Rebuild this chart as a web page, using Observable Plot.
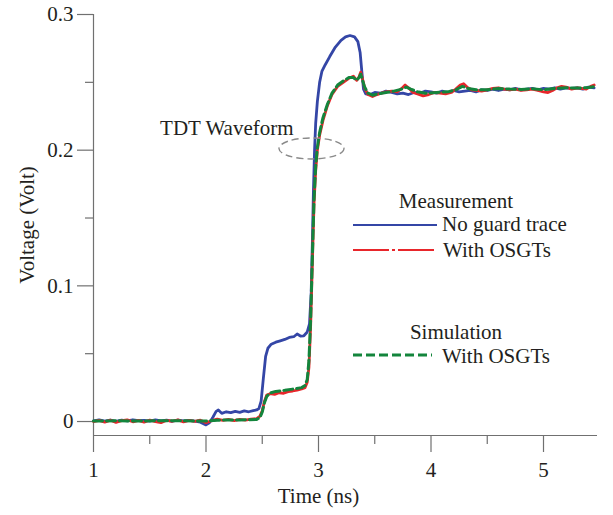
<!DOCTYPE html>
<html><head><meta charset="utf-8">
<script src="https://cdn.jsdelivr.net/npm/d3@7"></script>
<script src="https://cdn.jsdelivr.net/npm/@observablehq/plot@0.6"></script>
<style>
body{margin:0;background:#fff;}
#wrap{position:relative;width:613px;height:515px;font-family:"Liberation Serif","Times New Roman",serif;}
#wrap svg{display:block;}
#legend{position:absolute;left:0;top:0;pointer-events:none;}
</style></head><body><div id="wrap"></div>
<script>
// ---- data ----
const blueT = [1.00,1.05,1.10,1.15,1.20,1.25,1.30,1.35,1.40,1.45,1.50,1.55,1.60,1.65,1.70,1.75,1.80,1.85,1.90,1.95,2.00,2.03,2.06,2.09,2.11,2.14,2.18,2.22,2.26,2.30,2.34,2.38,2.42,2.45,2.47,2.49,2.51,2.53,2.55,2.58,2.62,2.66,2.70,2.74,2.78,2.81,2.84,2.87,2.90,2.92,2.935,2.945,2.955,2.965,2.975,2.99,3.01,3.03,3.06,3.10,3.15,3.20,3.24,3.28,3.32,3.35,3.37,3.385,3.40,3.42,3.46,3.50,3.55,3.60,3.65,3.70,3.75,3.80,3.85,3.90,3.95,4.00,4.05,4.10,4.15,4.20,4.25,4.30,4.35,4.40,4.45,4.50,4.55,4.60,4.65,4.70,4.75,4.80,4.85,4.90,4.95,5.00,5.05,5.10,5.15,5.20,5.25,5.30,5.35,5.40,5.45];
const blueV = [0.0005,0.0012,0.0003,0.0010,0.0002,0.0011,0.0004,0.0013,0.0006,0.0009,0.0003,0.0012,0.0005,0.0010,0.0002,0.0011,0.0004,0.0008,0.0003,-0.0005,-0.0025,-0.0010,0.0030,0.0075,0.0085,0.0060,0.0072,0.0065,0.0075,0.0068,0.0078,0.0072,0.0080,0.0085,0.0095,0.0150,0.0320,0.0480,0.0540,0.0570,0.0585,0.0595,0.0605,0.0620,0.0625,0.0645,0.0630,0.0632,0.0660,0.0720,0.095,0.130,0.170,0.200,0.220,0.236,0.250,0.258,0.263,0.269,0.276,0.281,0.2835,0.2845,0.2835,0.280,0.272,0.258,0.245,0.2415,0.2410,0.2425,0.2420,0.2435,0.2425,0.2415,0.2420,0.2410,0.2425,0.2420,0.2435,0.2430,0.2420,0.2435,0.2425,0.2440,0.2430,0.2435,0.2440,0.2430,0.2445,0.2440,0.2450,0.2440,0.2450,0.2445,0.2455,0.2445,0.2450,0.2455,0.2445,0.2455,0.2450,0.2460,0.2450,0.2460,0.2455,0.2460,0.2450,0.2465,0.2460];

const redT = [1.00,1.05,1.10,1.15,1.20,1.25,1.30,1.35,1.40,1.45,1.50,1.55,1.60,1.65,1.70,1.75,1.80,1.85,1.90,1.95,2.00,2.05,2.10,2.15,2.20,2.25,2.30,2.35,2.40,2.45,2.48,2.50,2.52,2.54,2.57,2.61,2.65,2.69,2.73,2.77,2.81,2.85,2.88,2.90,2.915,2.93,2.945,2.96,2.975,2.99,3.01,3.04,3.08,3.12,3.17,3.22,3.27,3.31,3.34,3.36,3.375,3.39,3.41,3.44,3.48,3.52,3.56,3.60,3.65,3.70,3.74,3.77,3.80,3.84,3.88,3.93,3.98,4.03,4.08,4.13,4.18,4.22,4.26,4.29,4.32,4.36,4.40,4.45,4.50,4.55,4.60,4.65,4.70,4.75,4.80,4.85,4.90,4.95,5.00,5.04,5.08,5.12,5.16,5.20,5.25,5.30,5.34,5.38,5.42,5.45];
const redV = [0.0000,0.0008,-0.0004,0.0010,-0.0006,0.0006,0.0012,-0.0002,0.0009,-0.0005,0.0011,0.0000,-0.0008,0.0009,0.0002,0.0012,-0.0003,0.0008,0.0001,0.0010,-0.0008,0.0006,0.0018,0.0008,0.0015,0.0006,0.0016,0.0010,0.0018,0.0022,0.0040,0.0080,0.0150,0.0195,0.0205,0.0200,0.0212,0.0208,0.0220,0.0225,0.0232,0.0240,0.0250,0.0290,0.040,0.070,0.115,0.160,0.185,0.200,0.211,0.222,0.233,0.241,0.247,0.250,0.253,0.2545,0.2515,0.2540,0.2575,0.2530,0.2460,0.2410,0.2395,0.2410,0.2420,0.2430,0.2435,0.2430,0.2455,0.2480,0.2460,0.2425,0.2415,0.2400,0.2410,0.2425,0.2420,0.2415,0.2425,0.2450,0.2480,0.2490,0.2465,0.2445,0.2440,0.2435,0.2445,0.2455,0.2460,0.2450,0.2445,0.2450,0.2440,0.2445,0.2450,0.2440,0.2430,0.2425,0.2440,0.2460,0.2470,0.2465,0.2450,0.2460,0.2455,0.2450,0.2470,0.2480];

const simT = [1.00,1.20,1.40,1.60,1.80,2.00,2.10,2.30,2.45,2.48,2.50,2.52,2.54,2.57,2.62,2.70,2.78,2.85,2.88,2.90,2.915,2.93,2.945,2.96,2.975,2.99,3.01,3.04,3.08,3.12,3.17,3.22,3.27,3.31,3.34,3.36,3.375,3.39,3.41,3.44,3.48,3.53,3.60,3.67,3.74,3.78,3.82,3.88,3.95,4.05,4.15,4.22,4.28,4.33,4.40,4.50,4.60,4.70,4.80,4.90,5.00,5.10,5.20,5.30,5.40,5.45];
const simV = [0.0003,0.0005,0.0004,0.0006,0.0005,0.0003,0.0010,0.0012,0.0015,0.0030,0.0070,0.0140,0.0185,0.0210,0.0222,0.0230,0.0240,0.0250,0.0265,0.0310,0.045,0.075,0.120,0.163,0.188,0.202,0.213,0.224,0.234,0.242,0.248,0.251,0.2535,0.2535,0.2515,0.2535,0.2560,0.2520,0.2465,0.2420,0.2405,0.2415,0.2425,0.2435,0.2450,0.2465,0.2450,0.2430,0.2420,0.2425,0.2430,0.2445,0.2470,0.2455,0.2445,0.2445,0.2455,0.2450,0.2448,0.2452,0.2445,0.2455,0.2460,0.2458,0.2462,0.2468];

const xTicks = [1, 2, 3, 4, 5];
const xMinorTicks = [1.5, 2.5, 3.5, 4.5];
const yTicks = [0, 0.1, 0.2, 0.3];
const yMinorTicks = [0.05, 0.15, 0.25];
const xTitle = "Time (ns)";
const yTitle = "Voltage (Volt)";
const legendGroups = ["Measurement", "Simulation"];
const legendItems = ["No guard trace", "With OSGTs", "With OSGTs"];
const annotation = "TDT Waveform";
const annotationPoint = [{t: 2.778, v: 0.216}];
const ellipseCenter = [{t: 2.942, v: 0.2009}];

// ---- rows ----
const rows = (T, V) => T.map((t, i) => ({t, v: V[i]}));
const blue = rows(blueT, blueV), red = rows(redT, redV), sim = rows(simT, simV);

const C_BLUE = "#3446a6", C_RED = "#e8262b", C_GREEN = "#13853c";
const AX = "#707070", TXT = "#231f20";
const FS = 21;

const ellipseMark = (index, scales) => {
  const ns = "http://www.w3.org/2000/svg";
  const g = document.createElementNS(ns, "g");
  for (const c of ellipseCenter) {
    const e = document.createElementNS(ns, "ellipse");
    e.setAttribute("cx", scales.x(c.t));
    e.setAttribute("cy", scales.y(c.v));
    e.setAttribute("rx", 32.5);
    e.setAttribute("ry", 10.5);
    e.setAttribute("fill", "none");
    e.setAttribute("stroke", "#8a8a8a");
    e.setAttribute("stroke-width", 1.4);
    e.setAttribute("stroke-dasharray", "7,4");
    g.appendChild(e);
  }
  return g;
};

const chart = Plot.plot({
  width: 613, height: 515,
  marginLeft: 93, marginRight: 16, marginTop: 14, marginBottom: 80,
  style: {fontFamily: '"Liberation Serif", "Times New Roman", serif', fontSize: FS + "px", color: TXT, background: "transparent"},
  x: {domain: [1, 5.48], label: null},
  y: {domain: [-0.0103, 0.3], label: null},
  marks: [
    Plot.axisX(xTicks, {tickSize: 17, tickPadding: 10, fontSize: FS, label: null, stroke: AX, fill: TXT, strokeWidth: 1.2}),
    Plot.axisX(xMinorTicks, {tickSize: 9, tickFormat: () => "", label: null, stroke: AX, strokeWidth: 1.2}),
    Plot.axisY(yTicks, {tickSize: 16, tickPadding: 4, fontSize: FS, label: null, tickFormat: d => d === 0 ? "0" : d.toFixed(1), stroke: AX, fill: TXT, strokeWidth: 1.2}),
    Plot.axisY(yMinorTicks, {tickSize: 8, tickFormat: () => "", label: null, stroke: AX, strokeWidth: 1.2}),
    Plot.ruleY([-0.0103], {stroke: AX, strokeWidth: 1.2}),
    Plot.ruleX([1], {stroke: AX, strokeWidth: 1.2}),
    Plot.text([xTitle], {frameAnchor: "bottom", dx: -27, dy: 67, fontSize: FS, fill: TXT, textAnchor: "middle"}),
    Plot.text([yTitle], {frameAnchor: "left", dx: -66, rotate: -90, fontSize: FS, fill: TXT, textAnchor: "middle"}),
    Plot.line(blue, {x: "t", y: "v", stroke: C_BLUE, strokeWidth: 2.8}),
    Plot.line(red, {x: "t", y: "v", stroke: C_RED, strokeWidth: 2.8}),
    Plot.line(sim, {x: "t", y: "v", stroke: C_GREEN, strokeWidth: 3, strokeDasharray: "9,4"}),
    ellipseMark,
    Plot.text(annotationPoint, {x: "t", y: "v", text: () => annotation, textAnchor: "end", fontSize: FS, fill: TXT})
  ]
});

const wrap = document.getElementById("wrap");
wrap.appendChild(chart);

// ---- legend overlay ----
const ns = "http://www.w3.org/2000/svg";
const lg = document.createElementNS(ns, "svg");
lg.setAttribute("id", "legend");
lg.setAttribute("width", 613); lg.setAttribute("height", 515);
const add = (tag, attrs, text) => {
  const el = document.createElementNS(ns, tag);
  for (const k in attrs) el.setAttribute(k, attrs[k]);
  if (text != null) el.textContent = text;
  lg.appendChild(el); return el;
};
const font = {"font-family": '"Liberation Serif", "Times New Roman", serif', "font-size": FS, fill: TXT};
add("text", {...font, x: 456, y: 208, "text-anchor": "middle"}, legendGroups[0]);
add("line", {x1: 353, x2: 437, y1: 225, y2: 225, stroke: C_BLUE, "stroke-width": 2});
add("text", {...font, x: 442, y: 231}, legendItems[0]);
add("line", {x1: 353, x2: 437, y1: 250, y2: 250, stroke: C_RED, "stroke-width": 2, "stroke-dasharray": "36,3,3,3"});
add("text", {...font, x: 443, y: 257}, legendItems[1]);
add("text", {...font, x: 456, y: 339, "text-anchor": "middle"}, legendGroups[1]);
add("line", {x1: 353, x2: 432, y1: 355, y2: 355, stroke: C_GREEN, "stroke-width": 3, "stroke-dasharray": "9,4"});
add("text", {...font, x: 442, y: 363}, legendItems[2]);
wrap.appendChild(lg);
</script></body></html>
